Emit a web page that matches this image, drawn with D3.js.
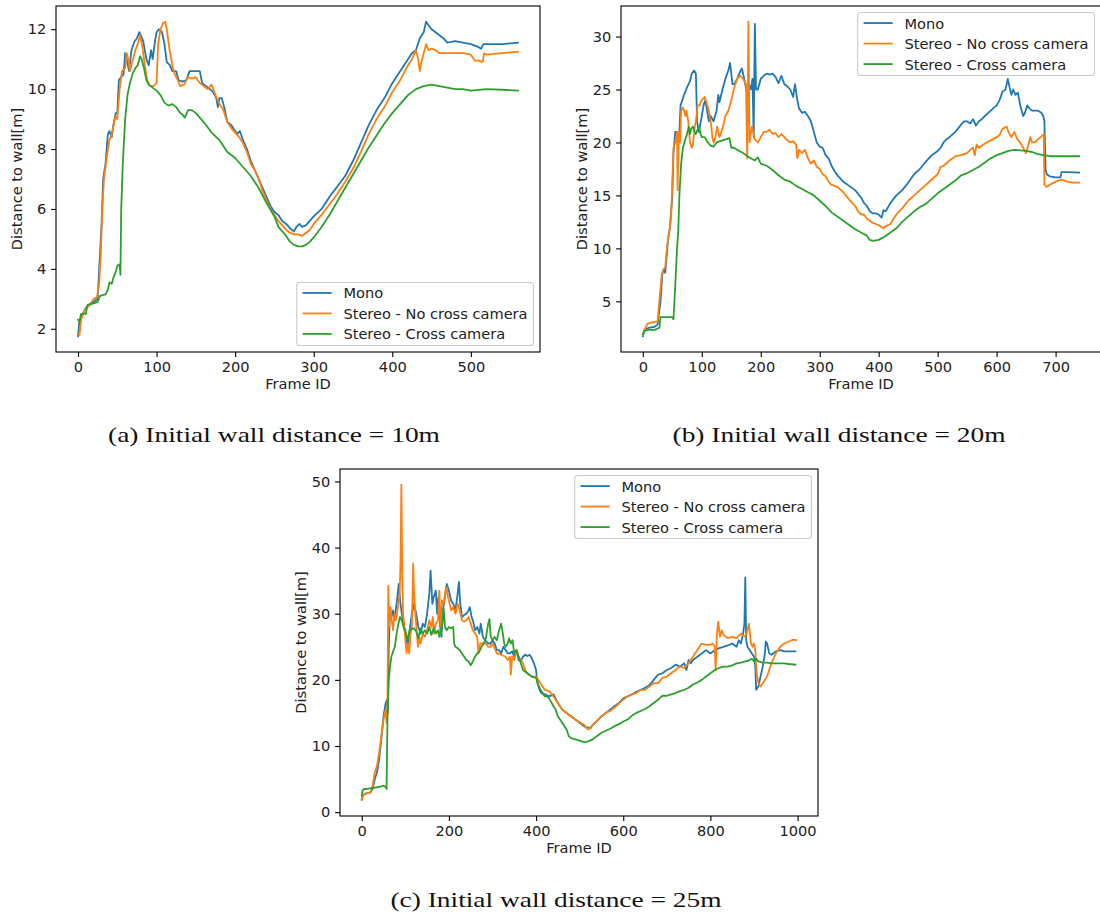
<!DOCTYPE html>
<html>
<head>
<meta charset="utf-8">
<script src="https://cdn.jsdelivr.net/npm/d3@7"></script>
<style>
  body { margin: 0; background: #fff; }
  svg { display: block; }
</style>
</head>
<body>
<svg id="fig" width="1100" height="917"></svg>
<script>
// ---- Series labels and colours ----
const seriesNames = ["Mono", "Stereo - No cross camera", "Stereo - Cross camera"];
const seriesColors = ["#1f77b4", "#ff7f0e", "#2ca02c"];

// ---- Panel (a): initial wall distance 10 m  — [frame, distance m] ----
const aMono = [[0,1.75],[2,2.3],[10,2.7],[20,2.9],[25,3.0],[27,4.0],[30,5.5],[32,7.0],[35,7.5],[38,8.5],[40,8.6],[43,8.4],[45,8.8],[48,9.2],[50,9.2],[52,10.3],[55,10.4],[58,10.5],[60,11.2],[62,11.0],[65,10.6],[68,11.3],[72,11.6],[75,11.7],[78,11.9],[80,11.8],[83,11.6],[87,11.0],[90,10.8],[93,11.3],[95,11.0],[98,11.6],[100,11.9],[103,12.0],[107,11.9],[110,11.5],[113,10.9],[117,10.8],[120,10.6],[125,10.6],[128,10.3],[133,10.25],[138,10.3],[142,10.6],[150,10.6],[155,10.6],[158,10.2],[163,10.1],[168,10.0],[172,9.9],[176,9.7],[178,9.4],[180,9.7],[183,9.7],[187,9.3],[190,8.9],[195,8.8],[200,8.6],[203,8.5],[206,8.6],[210,8.3],[215,8.0],[220,7.6],[225,7.3],[230,7.0],[235,6.7],[240,6.4],[245,6.1],[250,5.9],[255,5.8],[260,5.6],[265,5.5],[270,5.35],[275,5.25],[278,5.4],[282,5.5],[285,5.4],[290,5.45],[295,5.6],[300,5.75],[310,6.0],[320,6.4],[330,6.75],[340,7.1],[350,7.6],[360,8.2],[370,8.8],[380,9.3],[390,9.7],[400,10.2],[410,10.6],[420,11.0],[425,11.2],[430,11.3],[435,11.7],[440,11.9],[443,12.25],[447,12.1],[450,12.0],[455,11.9],[460,11.8],[465,11.7],[470,11.55],[480,11.6],[490,11.55],[500,11.5],[505,11.45],[510,11.4],[513,11.35],[516,11.5],[520,11.5],[540,11.5],[560,11.55]];
const aStereo = [[0,1.85],[2,1.8],[4,2.3],[8,2.6],[15,2.8],[20,3.0],[24,3.05],[27,3.5],[29,4.5],[31,6.0],[33,7.0],[37,7.8],[40,8.3],[43,8.5],[46,8.9],[48,9.1],[50,9.0],[53,10.0],[56,10.6],[60,10.7],[62,11.2],[64,11.0],[66,10.6],[70,11.0],[73,11.3],[76,11.5],[79,11.8],[82,11.4],[85,10.8],[88,10.3],[92,10.1],[96,10.1],[100,10.2],[102,11.5],[105,12.0],[108,12.2],[111,12.25],[113,12.0],[116,11.4],[120,10.8],[123,10.5],[127,10.3],[130,10.1],[135,10.15],[140,10.4],[145,10.35],[150,10.4],[155,10.2],[160,10.1],[165,10.0],[170,10.15],[175,9.8],[180,9.5],[185,9.3],[190,8.9],[195,8.7],[200,8.55],[205,8.4],[210,8.2],[215,7.9],[220,7.5],[225,7.3],[230,7.0],[235,6.6],[240,6.3],[245,6.0],[250,5.8],[255,5.6],[260,5.45],[265,5.3],[270,5.2],[275,5.15],[280,5.15],[285,5.1],[290,5.2],[295,5.3],[300,5.5],[310,5.8],[320,6.15],[330,6.5],[340,6.9],[350,7.35],[360,7.9],[370,8.5],[380,9.0],[390,9.4],[400,9.9],[410,10.3],[420,10.8],[425,11.0],[430,11.3],[433,11.0],[435,10.6],[437,10.9],[440,11.2],[443,11.5],[446,11.3],[450,11.35],[455,11.3],[460,11.2],[470,11.2],[480,11.2],[490,11.2],[500,11.15],[505,10.95],[510,10.95],[515,10.9],[517,11.2],[520,11.15],[540,11.2],[560,11.25]];
const aCross = [[0,2.3],[2,2.25],[4,2.5],[10,2.5],[12,2.8],[20,2.85],[25,2.9],[28,3.1],[35,3.15],[38,3.3],[40,3.55],[43,3.5],[45,3.7],[48,3.9],[50,4.1],[53,4.15],[54,3.8],[55,6.0],[57,7.5],[60,9.0],[63,9.8],[66,10.2],[70,10.55],[73,10.7],[76,10.8],[79,11.1],[81,11.0],[84,10.7],[87,10.3],[90,10.15],[95,10.05],[100,9.95],[105,9.8],[110,9.55],[115,9.45],[120,9.5],[125,9.4],[130,9.2],[133,9.15],[136,9.05],[140,9.3],[145,9.3],[150,9.2],[160,8.9],[170,8.55],[180,8.3],[190,7.9],[195,7.8],[200,7.7],[210,7.4],[220,7.1],[230,6.7],[240,6.2],[250,5.75],[255,5.4],[260,5.25],[265,5.1],[270,4.9],[275,4.8],[280,4.75],[285,4.75],[290,4.8],[295,4.9],[300,5.05],[310,5.4],[320,5.8],[330,6.25],[340,6.7],[350,7.15],[360,7.6],[370,8.05],[380,8.45],[390,8.85],[400,9.2],[410,9.5],[420,9.8],[430,10.0],[440,10.1],[450,10.15],[460,10.1],[470,10.05],[480,10.0],[490,10.0],[500,9.95],[520,10.0],[540,9.98],[560,9.95]];
const aXTicks = [0, 100, 200, 300, 400, 500];
const aYTicks = [2, 4, 6, 8, 10, 12];

// ---- Panel (b): initial wall distance 20 m ----
const bMono = [[0,1.7],[3,2.3],[10,2.5],[20,2.6],[25,2.8],[30,5.0],[33,7.5],[35,8.0],[38,7.7],[40,9.0],[43,11.0],[46,12.0],[50,15.0],[52,19.0],[55,21.0],[58,21.0],[60,20.5],[62,21.0],[64,23.5],[67,24.0],[70,24.5],[75,25.2],[80,25.8],[83,26.5],[87,26.8],[90,26.5],[92,22.0],[95,21.0],[100,22.5],[103,23.5],[106,24.0],[109,23.0],[112,22.0],[115,22.5],[120,22.0],[125,23.0],[128,24.5],[130,23.8],[135,25.0],[140,26.0],[145,26.8],[148,27.5],[150,26.5],[152,25.5],[155,25.5],[160,26.0],[165,26.7],[168,27.0],[172,26.0],[176,24.8],[180,25.5],[183,25.0],[186,26.0],[188,20.5],[190,31.2],[192,25.0],[195,25.0],[200,26.0],[205,26.3],[210,26.5],[215,26.4],[220,26.5],[225,26.2],[230,25.6],[235,26.3],[240,25.5],[245,25.3],[250,25.0],[255,24.3],[258,25.5],[262,24.0],[265,23.2],[270,22.8],[275,22.9],[280,22.5],[285,22.0],[290,21.0],[295,20.0],[300,19.6],[305,19.5],[310,18.8],[315,18.5],[320,17.8],[325,17.3],[330,16.9],[340,16.3],[350,15.9],[360,15.5],[370,14.8],[375,14.3],[380,14.0],[385,13.5],[390,13.3],[395,13.3],[400,13.2],[403,13.0],[405,12.9],[408,13.6],[412,13.5],[420,14.3],[430,15.0],[440,15.5],[450,16.2],[460,17.0],[470,17.5],[480,18.2],[490,18.8],[500,19.2],[505,19.5],[510,20.0],[515,20.3],[520,20.5],[530,21.0],[540,21.7],[545,22.0],[550,22.0],[555,21.8],[560,22.2],[565,21.6],[570,22.0],[575,22.2],[580,22.5],[590,23.0],[600,23.5],[605,24.0],[610,24.8],[615,25.0],[619,26.0],[622,25.2],[625,24.5],[628,25.0],[632,24.5],[636,24.7],[640,23.5],[645,22.5],[648,22.8],[652,23.5],[656,23.2],[660,23.0],[670,23.0],[676,22.8],[679,22.5],[681,22.0],[683,17.5],[685,17.0],[690,16.8],[700,16.7],[708,16.7],[710,17.2],[720,17.2],[740,17.15]];
const bStereo = [[0,1.8],[3,2.3],[8,2.9],[15,3.0],[25,3.1],[28,5.0],[32,7.5],[35,8.0],[38,8.2],[40,9.5],[43,11.0],[45,11.5],[48,13.0],[52,19.5],[55,20.0],[58,21.0],[59,15.5],[61,21.0],[63,20.0],[65,23.0],[68,23.3],[70,23.0],[72,22.5],[74,23.0],[77,22.0],[80,20.0],[83,19.5],[85,19.8],[88,21.5],[90,22.0],[93,23.5],[96,23.5],[100,24.0],[105,24.3],[108,23.8],[112,23.0],[115,22.0],[118,20.5],[120,20.0],[123,20.5],[126,21.5],[130,20.5],[133,21.0],[136,21.5],[140,22.5],[145,23.0],[150,24.0],[155,25.2],[160,26.0],[165,26.3],[170,26.0],[175,25.5],[177,18.5],[179,31.4],[181,20.0],[185,21.5],[190,20.3],[195,20.0],[200,20.5],[205,21.0],[210,21.0],[215,21.2],[220,20.8],[225,20.9],[230,20.5],[235,20.8],[240,20.5],[245,20.2],[250,20.0],[255,20.1],[260,19.8],[262,18.5],[265,19.3],[270,19.0],[275,19.3],[280,18.5],[285,18.0],[290,18.3],[295,17.7],[300,17.5],[305,17.0],[310,16.8],[315,16.3],[320,16.0],[330,15.8],[340,15.3],[350,14.6],[360,14.0],[365,13.5],[370,13.2],[375,13.2],[380,12.8],[385,12.6],[390,12.4],[395,12.3],[400,12.2],[405,12.0],[408,11.9],[412,12.1],[420,12.3],[425,12.8],[430,13.2],[440,13.8],[450,14.5],[460,15.0],[470,15.5],[480,16.0],[490,16.5],[500,17.0],[505,17.7],[510,17.8],[520,18.3],[530,18.7],[540,18.8],[550,19.0],[555,19.3],[560,19.5],[563,18.8],[566,19.8],[570,19.5],[580,19.9],[590,20.2],[600,20.5],[605,20.7],[610,21.3],[617,21.5],[620,21.0],[625,20.5],[630,21.0],[635,20.3],[640,20.0],[645,19.5],[650,19.0],[653,19.6],[657,20.5],[660,20.0],[665,20.0],[670,20.3],[675,20.5],[680,20.8],[681,16.0],[685,15.8],[690,16.0],[700,16.3],[710,16.5],[720,16.3],[730,16.2],[740,16.2]];
const bCross = [[0,1.9],[3,2.2],[10,2.3],[20,2.3],[28,2.5],[30,3.5],[40,3.5],[50,3.5],[52,3.3],[55,6.5],[58,10.0],[60,11.5],[62,15.0],[65,18.0],[68,19.5],[72,20.3],[75,20.8],[78,21.5],[80,20.8],[82,21.3],[85,21.5],[88,21.0],[90,20.8],[95,21.5],[98,20.8],[100,20.5],[105,20.5],[110,20.0],[115,19.7],[120,19.6],[125,20.0],[130,20.1],[135,20.2],[140,20.3],[147,20.4],[150,19.5],[155,19.5],[160,19.3],[170,19.0],[180,18.6],[190,18.3],[195,18.6],[200,18.0],[210,17.8],[220,17.4],[230,16.9],[240,16.5],[250,16.3],[260,15.9],[270,15.6],[280,15.3],[290,15.0],[300,14.5],[310,14.0],[320,13.4],[330,13.0],[340,12.6],[350,12.2],[360,11.8],[370,11.5],[380,11.2],[385,10.8],[390,10.7],[400,10.8],[410,11.1],[420,11.5],[430,11.9],[440,12.5],[450,13.0],[460,13.5],[470,13.9],[480,14.2],[490,14.7],[500,15.2],[510,15.6],[520,16.0],[530,16.4],[540,16.9],[550,17.1],[560,17.4],[570,17.7],[580,18.1],[590,18.5],[600,18.8],[610,19.0],[620,19.2],[630,19.3],[640,19.25],[650,19.2],[660,19.1],[670,18.9],[680,18.8],[690,18.7],[700,18.7],[740,18.7]];
const bXTicks = [0, 100, 200, 300, 400, 500, 600, 700];
const bYTicks = [5, 10, 15, 20, 25, 30];

// ---- Panel (c): initial wall distance 25 m ----
const cMono = [[0,2.0],[3,2.5],[8,2.8],[20,3.0],[25,3.5],[30,5.0],[35,6.0],[40,8.0],[45,11.0],[50,14.5],[55,16.5],[58,17.0],[60,15.0],[62,25.0],[65,30.5],[68,29.5],[72,30.5],[75,29.0],[80,31.5],[85,34.5],[88,32.0],[92,30.0],[95,28.5],[100,27.0],[105,25.0],[110,27.5],[115,30.0],[120,31.5],[125,30.0],[130,28.0],[135,27.0],[140,28.5],[145,28.0],[150,30.0],[155,33.0],[158,36.5],[162,31.5],[165,32.5],[170,33.5],[173,30.0],[176,32.5],[180,28.0],[183,26.5],[186,30.5],[190,32.0],[195,34.5],[200,33.5],[205,32.0],[210,31.5],[215,30.5],[220,33.0],[223,34.8],[226,31.5],[230,29.5],[235,29.8],[240,30.0],[245,30.5],[248,31.0],[252,29.5],[255,29.0],[260,27.5],[265,28.0],[270,27.0],[273,28.5],[278,26.5],[283,26.0],[290,25.5],[295,25.5],[300,26.0],[305,25.5],[310,24.5],[315,24.5],[320,24.0],[325,25.0],[330,24.5],[335,24.0],[340,24.0],[345,24.3],[350,23.5],[355,24.5],[360,23.0],[365,22.8],[370,23.5],[375,23.8],[380,23.6],[385,23.8],[390,23.3],[395,22.5],[400,21.5],[403,19.5],[408,18.5],[412,18.0],[420,17.8],[430,17.5],[440,17.8],[450,16.5],[460,15.5],[470,15.0],[480,14.5],[490,14.0],[500,13.5],[510,13.0],[515,12.8],[520,12.8],[525,12.7],[530,13.2],[540,13.8],[550,14.5],[560,15.0],[570,15.5],[580,16.0],[590,16.5],[600,17.2],[610,17.5],[620,17.8],[630,18.2],[640,18.5],[650,18.8],[660,19.2],[670,20.0],[680,20.8],[690,21.0],[700,21.5],[710,21.8],[720,22.3],[730,22.0],[740,22.5],[745,21.5],[750,23.0],[755,22.5],[760,23.0],[770,23.5],[780,24.0],[790,24.5],[800,24.0],[810,24.5],[820,24.8],[830,25.0],[840,25.2],[850,25.5],[860,25.0],[865,26.0],[870,25.5],[875,27.0],[878,28.5],[880,35.5],[882,26.0],[885,25.0],[890,24.5],[895,24.0],[900,23.5],[903,22.0],[905,18.5],[910,19.0],[915,20.5],[920,22.0],[925,24.0],[927,25.8],[930,25.5],[935,24.0],[940,23.8],[950,24.3],[960,24.5],[970,24.3],[980,24.3],[995,24.3]];
const cStereo = [[0,1.8],[3,2.5],[10,2.8],[20,3.0],[25,4.0],[30,6.0],[35,7.0],[40,9.0],[45,11.5],[50,14.0],[55,15.5],[57,13.5],[59,16.0],[61,34.2],[63,28.0],[66,31.0],[69,29.0],[72,27.5],[75,30.0],[78,29.0],[81,30.0],[84,31.5],[87,33.0],[89,38.0],[91,49.5],[93,35.0],[95,30.0],[98,28.0],[100,26.0],[103,24.0],[106,25.5],[109,24.0],[112,27.0],[115,28.0],[118,37.6],[120,33.0],[123,30.0],[126,27.5],[129,25.0],[132,26.5],[135,25.5],[140,27.0],[145,26.5],[150,27.5],[155,29.0],[160,28.0],[163,29.5],[166,27.0],[170,28.5],[175,29.0],[178,33.5],[181,27.0],[184,32.0],[188,31.5],[192,33.5],[195,34.0],[198,32.5],[200,32.0],[205,30.5],[210,31.0],[215,30.0],[220,31.5],[225,30.5],[230,29.0],[235,28.8],[240,29.0],[245,29.5],[250,28.5],[255,27.5],[260,27.0],[265,26.5],[268,24.0],[272,25.5],[278,25.5],[285,25.5],[290,25.0],[295,25.0],[300,25.5],[305,24.8],[310,24.0],[320,23.8],[330,23.5],[335,23.0],[340,23.5],[342,20.8],[345,23.5],[350,23.0],[355,24.5],[360,23.5],[365,23.0],[370,22.5],[375,21.5],[380,21.0],[390,20.5],[400,20.5],[410,19.5],[420,18.5],[430,18.3],[440,17.5],[450,16.5],[460,15.5],[470,15.0],[480,14.5],[490,14.0],[500,13.6],[510,13.2],[515,12.8],[520,12.5],[525,12.8],[530,13.2],[540,13.8],[550,14.5],[560,15.0],[570,15.3],[580,15.8],[590,16.4],[600,17.0],[610,17.5],[620,17.8],[630,18.0],[640,18.5],[650,18.5],[660,19.0],[670,19.5],[680,19.5],[690,20.3],[700,20.5],[710,21.0],[720,21.5],[730,22.0],[740,21.8],[750,22.5],[760,23.5],[770,24.5],[780,25.5],[790,25.3],[800,25.3],[805,25.5],[810,25.0],[812,21.5],[815,27.0],[818,28.8],[822,26.5],[826,27.5],[830,26.8],[840,26.3],[850,26.5],[860,26.3],[870,27.0],[880,26.5],[885,27.5],[888,28.5],[890,27.5],[893,25.5],[897,25.0],[900,25.5],[903,24.5],[906,21.0],[910,19.5],[915,19.0],[920,19.5],[930,20.5],[940,22.5],[950,24.0],[960,25.0],[970,25.5],[980,25.8],[990,26.1],[997,26.0]];
const cCross = [[0,2.5],[2,3.3],[5,3.5],[10,3.5],[20,3.6],[30,3.7],[40,3.8],[50,4.0],[55,3.8],[57,3.5],[59,14.0],[62,20.0],[65,22.0],[68,23.5],[72,24.3],[76,25.0],[80,27.0],[84,28.5],[88,29.5],[92,29.0],[96,28.0],[100,27.5],[105,26.0],[110,27.5],[115,27.7],[120,27.8],[125,27.3],[130,26.3],[135,27.8],[140,27.0],[145,27.5],[150,27.0],[155,28.0],[160,26.8],[165,27.8],[170,27.0],[175,27.5],[178,26.5],[181,27.5],[185,28.5],[188,30.8],[191,28.0],[195,27.5],[200,28.0],[205,27.8],[210,28.0],[212,25.5],[215,25.0],[220,24.8],[225,24.5],[230,24.0],[235,23.5],[240,23.0],[245,22.8],[250,22.2],[255,22.8],[260,23.5],[265,24.0],[270,24.3],[275,25.0],[280,25.5],[285,26.3],[290,28.5],[293,29.2],[296,26.5],[300,26.0],[305,26.5],[310,26.0],[315,27.5],[320,28.5],[323,27.3],[327,25.5],[330,25.0],[335,25.5],[338,26.3],[342,25.5],[346,26.0],[350,24.0],[355,24.5],[360,23.5],[365,22.5],[370,21.5],[380,21.0],[390,20.5],[400,20.3],[405,19.3],[410,18.5],[415,18.0],[420,17.5],[425,17.5],[430,17.2],[440,16.0],[445,15.5],[450,14.5],[460,13.5],[470,12.5],[475,11.5],[480,11.2],[490,11.0],[500,10.8],[510,10.6],[520,10.7],[530,11.0],[540,11.5],[550,12.0],[560,12.3],[570,12.6],[580,13.0],[590,13.3],[600,13.7],[610,14.0],[620,14.6],[630,15.0],[640,15.3],[650,15.6],[660,16.0],[670,16.5],[680,17.0],[690,17.6],[700,17.6],[710,17.8],[720,18.0],[730,18.3],[740,18.5],[750,18.8],[760,19.3],[770,19.6],[780,20.0],[790,20.5],[800,21.0],[810,21.5],[820,21.8],[830,22.0],[840,22.0],[850,22.2],[860,22.5],[870,22.6],[880,22.8],[890,23.0],[895,23.2],[900,22.8],[905,23.2],[910,22.8],[920,22.6],[930,22.6],[940,22.5],[950,22.5],[960,22.5],[970,22.5],[980,22.4],[995,22.3]];
const cXTicks = [0, 200, 400, 600, 800, 1000];
const cYTicks = [0, 10, 20, 30, 40, 50];

// ---- Text ----
const xLabel = "Frame ID";
const yLabel = "Distance to wall[m]";
const captions = [
  "(a) Initial wall distance = 10m",
  "(b) Initial wall distance = 20m",
  "(c) Initial wall distance = 25m"
];

// ---- Layout of the three axes ----
const panels = [
  { series: [aMono, aStereo, aCross], xTicks: aXTicks, yTicks: aYTicks,
    box: { left: 56, right: 540, top: 6, bottom: 352 }, legend: "lower right",
    caption: { text: captions[0], cx: 274, y: 442, width: 332 } },
  { series: [bMono, bStereo, bCross], xTicks: bXTicks, yTicks: bYTicks,
    box: { left: 621, right: 1101, top: 6, bottom: 352 }, legend: "upper right",
    caption: { text: captions[1], cx: 839, y: 442, width: 333 } },
  { series: [cMono, cStereo, cCross], xTicks: cXTicks, yTicks: cYTicks,
    box: { left: 340, right: 818, top: 469, bottom: 816 }, legend: "upper right",
    caption: { text: captions[2], cx: 556, y: 907, width: 331 } }
];

const FONT = "'DejaVu Sans', sans-serif";
const FS = 14.6;        // tick / label / legend font size
const TICK = 4.9;       // tick length
const PAD = 4.9;        // tick label padding

const svg = d3.select("#fig");

function paddedDomain(values) {
  const [lo, hi] = d3.extent(values);
  const m = (hi - lo) * 0.05;
  return [lo - m, hi + m];
}

panels.forEach((p, pi) => {
  const all = p.series.flat();
  const x = d3.scaleLinear().domain(paddedDomain(all.map(d => d[0])))
              .range([p.box.left, p.box.right]);
  const y = d3.scaleLinear().domain(paddedDomain(all.map(d => d[1])))
              .range([p.box.bottom, p.box.top]);

  const g = svg.append("g");

  const clipId = "clip" + pi;
  g.append("clipPath").attr("id", clipId).append("rect")
    .attr("x", p.box.left).attr("y", p.box.top)
    .attr("width", p.box.right - p.box.left).attr("height", p.box.bottom - p.box.top);

  // data lines
  const line = d3.line().x(d => x(d[0])).y(d => y(d[1]));
  const lines = g.append("g").attr("clip-path", `url(#${clipId})`);
  p.series.forEach((s, i) => {
    lines.append("path").datum(s)
      .attr("d", line)
      .attr("fill", "none")
      .attr("stroke", seriesColors[i])
      .attr("stroke-width", 1.8)
      .attr("stroke-linejoin", "round")
      .attr("stroke-linecap", "square");
  });

  // axes
  const xAxis = d3.axisBottom(x).tickValues(p.xTicks).tickSize(TICK).tickPadding(PAD)
                  .tickFormat(d3.format("d"));
  const yAxis = d3.axisLeft(y).tickValues(p.yTicks).tickSize(TICK).tickPadding(PAD)
                  .tickFormat(d3.format("d"));
  const gx = g.append("g").attr("transform", `translate(0,${p.box.bottom})`).call(xAxis);
  const gy = g.append("g").attr("transform", `translate(${p.box.left},0)`).call(yAxis);
  [gx, gy].forEach(ax => {
    ax.select(".domain").remove();
    ax.selectAll("line").attr("stroke", "#000").attr("stroke-width", 1.1);
    ax.selectAll("text").attr("font-family", FONT).attr("font-size", FS).attr("fill", "#222");
  });

  // spines
  g.append("rect")
    .attr("x", p.box.left).attr("y", p.box.top)
    .attr("width", p.box.right - p.box.left).attr("height", p.box.bottom - p.box.top)
    .attr("fill", "none").attr("stroke", "#000").attr("stroke-width", 1.1);

  // axis labels
  g.append("text")
    .attr("x", (p.box.left + p.box.right) / 2)
    .attr("y", p.box.bottom + 37)
    .attr("text-anchor", "middle")
    .attr("font-family", FONT).attr("font-size", FS).attr("fill", "#222")
    .text(xLabel);
  g.append("text")
    .attr("transform", `translate(${p.box.left - 40},${(p.box.top + p.box.bottom) / 2}) rotate(-90)`)
    .attr("text-anchor", "middle")
    .attr("dominant-baseline", "central")
    .attr("font-family", FONT).attr("font-size", FS).attr("fill", "#222")
    .text(yLabel);

  // legend
  const lg = g.append("g");
  const texts = seriesNames.map((n, i) =>
    lg.append("text").attr("font-family", FONT).attr("font-size", FS).attr("fill", "#222").text(n));
  const textW = d3.max(texts, t => t.node().getComputedTextLength());
  const bp = 0.4 * FS, hl = 2 * FS, htp = 0.8 * FS, rowH = 20.5;
  const W = bp + hl + htp + textW + bp;
  const H = 63;
  const inset = 0.45 * FS;
  const lx = p.box.right - inset - W;
  const ly = p.legend === "upper right" ? p.box.top + inset : p.box.bottom - inset - H;
  lg.insert("rect", "text")
    .attr("x", lx).attr("y", ly).attr("width", W).attr("height", H)
    .attr("rx", 3).attr("ry", 3)
    .attr("fill", "#fff").attr("fill-opacity", 0.8)
    .attr("stroke", "#cccccc").attr("stroke-width", 1.1);
  seriesNames.forEach((n, i) => {
    const cy = ly + 10.5 + i * rowH;
    lg.insert("line", "text")
      .attr("x1", lx + bp).attr("x2", lx + bp + hl)
      .attr("y1", cy).attr("y2", cy)
      .attr("stroke", seriesColors[i]).attr("stroke-width", 1.8);
    texts[i].attr("x", lx + bp + hl + htp).attr("y", cy)
      .attr("dominant-baseline", "central");
  });

  // caption
  const c = p.caption;
  svg.append("text")
    .attr("x", c.cx).attr("y", c.y)
    .attr("text-anchor", "middle")
    .attr("font-family", "'Liberation Serif', serif")
    .attr("font-size", 21)
    .attr("textLength", c.width)
    .attr("lengthAdjust", "spacingAndGlyphs")
    .attr("fill", "#111")
    .text(c.text);
});
</script>
</body>
</html>
